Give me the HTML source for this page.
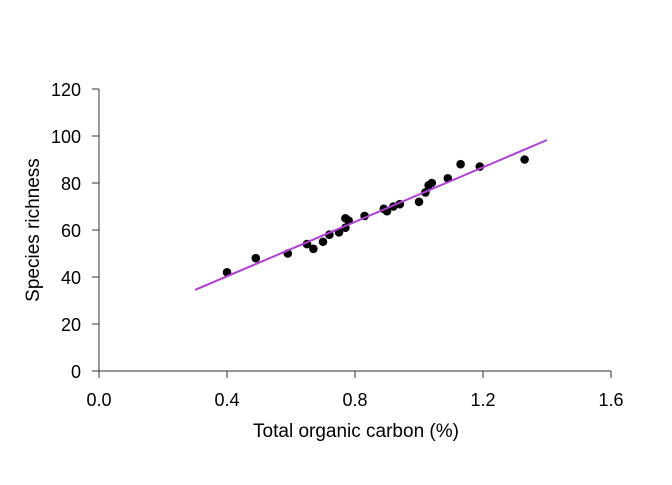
<!DOCTYPE html>
<html><head><meta charset="utf-8"><style>
body{margin:0;background:#fff}
svg{font-family:"Liberation Sans",sans-serif}
</style></head><body>
<svg id="chart" width="672" height="480"></svg>
<script>
const xVals=[0.40,0.49,0.59,0.65,0.67,0.70,0.72,0.75,0.77,0.78,0.77,0.83,0.89,0.90,0.92,0.94,1.00,1.02,1.03,1.04,1.09,1.13,1.19,1.33];
const yVals=[42,48,50,54,52,55,58,59,65,64,61,66,69,68,70,71,72,76,79,80,82,88,87,90];
const xTicks=[0.0,0.4,0.8,1.2,1.6];
const xTickLabels=["0.0","0.4","0.8","1.2","1.6"];
const yTicks=[0,20,40,60,80,100,120];
const fitLine=[0.3,1.4];
const fitCoef=[17.1,58];
const NS="http://www.w3.org/2000/svg";
const svg=document.getElementById('chart');
const sx=v=>99+v*320, sy=v=>371-v*2.35;
function mk(t,a){const e=document.createElementNS(NS,t);for(const k in a)e.setAttribute(k,a[k]);svg.appendChild(e);return e;}
let e;
e=mk('line',{x1:sx(0),x2:sx(1.6),y1:371,y2:371,stroke:'#333'});


e=mk('line',{x1:99,x2:99,y1:sy(0),y2:sy(120),stroke:'#333'});


xTicks.forEach((v,i)=>{
 e=mk('line',{x1:sx(v),x2:sx(v),y1:371,y2:378,stroke:'#333'});
 
 
 e=mk('text',{x:sx(v),y:406,'text-anchor':'middle','font-size':18});
 e.textContent=xTickLabels[i];
 
 
});
yTicks.forEach(v=>{
 e=mk('line',{x1:92,x2:99,y1:sy(v),y2:sy(v),stroke:'#333'});
 
 
 e=mk('text',{x:81,y:sy(v)+7,'text-anchor':'end','font-size':18});
 e.textContent=v;
 
 
});
e=mk('text',{x:356,y:437,'text-anchor':'middle','font-size':19});
e.textContent='Total organic carbon (%)';


e=mk('text',{x:39,y:230,'text-anchor':'middle','font-size':19,transform:'rotate(-90 39 230)'});
e.textContent='Species richness';


xVals.forEach((x,i)=>{
 e=mk('circle',{cx:sx(x),cy:sy(yVals[i]),r:4.3,fill:'#000'});
 
 
});
e=mk('line',{x1:sx(fitLine[0]),y1:sy(fitCoef[0]+fitCoef[1]*fitLine[0]),x2:sx(fitLine[1]),y2:sy(fitCoef[0]+fitCoef[1]*fitLine[1]),stroke:'#b03fd6','stroke-width':2});


</script>
</body></html>
